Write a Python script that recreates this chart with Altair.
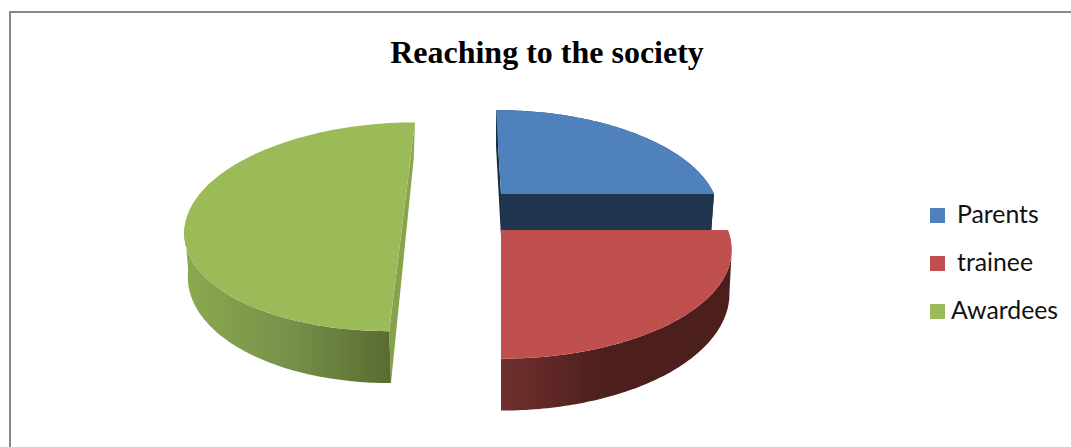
import math
import altair as alt

# Chart content
title_text = "Reaching to the society"
categories = ["Parents", "trainee", "Awardees"]
shares = [25, 25, 50]
colors = ["#4F81BD", "#C0504D", "#9BBB59"]

WIDTH, HEIGHT = 1071, 447
PERSPECTIVE = 0.18
DEPTH = 42.6

# Exploded position and ellipse shape for each slice of the tilted pie.
slice_geometry = {
    "Parents": dict(ax=501, ay=194, rx=213, ry=99, shear=5.9, shrink=0.985, bottom_shear=5.9),
    "trainee": dict(ax=501, ay=230, rx=227, ry=105.5, shear=0, shrink=0.99, bottom_shear=0),
    "Awardees": dict(ax=404.4, ay=208, rx=214, ry=101, shear=-12.5, shrink=0.985, bottom_shear=-11),
}


def project(g, deg, bottom=False):
    """Map an angle on the rim (clockwise from the top) to the page."""
    t = math.radians(deg)
    u, v = math.sin(t), -math.cos(t)
    s = 1 / (1 - PERSPECTIVE * v)
    if bottom:
        x = g["ax"] + (g["shrink"] * g["rx"] * u + g["bottom_shear"] * v) * s
        y = g["ay"] + g["ry"] * v * s + DEPTH * s
    else:
        x = g["ax"] + (g["rx"] * u + g["shear"] * v) * s
        y = g["ay"] + g["ry"] * v * s
    return [round(x, 2), round(y, 2)]


def apex(g, bottom=False):
    return [g["ax"], g["ay"] + (DEPTH if bottom else 0)]


def rim(g, a0, a1, bottom=False, n=90):
    return [project(g, a0 + (a1 - a0) * i / n, bottom) for i in range(n + 1)]


def shape(points, fill):
    feature = {
        "type": "Feature",
        "properties": {},
        "geometry": {"type": "Polygon", "coordinates": [points + [points[0]]]},
    }
    return (
        alt.Chart(alt.Data(values=[feature]))
        .mark_geoshape(fill=fill, strokeWidth=0)
        .project(type="identity", scale=1, translate=[0, 0])
    )


def gradient(stops, horizontal=True):
    return alt.Gradient(
        gradient="linear",
        x1=0, y1=0,
        x2=1 if horizontal else 0,
        y2=0 if horizontal else 1,
        stops=[alt.GradientStop(offset=o, color=c) for o, c in stops],
    )


# Cumulative angles of the slices, from the values.
total = sum(shares)
spans = {}
running = 0
for name, value in zip(categories, shares):
    spans[name] = (running * 360 / total, (running + value) * 360 / total)
    running += value

layers = []

# Frame
layers.append(
    alt.Chart(alt.Data(values=[{}])).mark_rule(color="#888888", strokeWidth=2)
    .encode(x=alt.value(9), x2=alt.value(WIDTH), y=alt.value(12))
)
layers.append(
    alt.Chart(alt.Data(values=[{}])).mark_rule(color="#888888", strokeWidth=2)
    .encode(x=alt.value(10), y=alt.value(11), y2=alt.value(HEIGHT))
)

# Parents: rear slice with its two cut faces showing
g = slice_geometry["Parents"]
a0, a1 = spans["Parents"]
layers.append(shape(rim(g, a0, a1, True)[::-1] + rim(g, a0, a1), "#1F3550"))
layers.append(shape([project(g, a0), apex(g), apex(g, True), project(g, a0, True)], "#1A2D45"))
layers.append(shape([apex(g), project(g, a1), project(g, a1, True), apex(g, True)], "#1F3550"))
layers.append(shape([apex(g)] + rim(g, a0, a1), colors[0]))

# Awardees: left half with a cut face along its chord
g = slice_geometry["Awardees"]
a0, a1 = spans["Awardees"]
layers.append(shape(
    [project(g, a1), project(g, a1, True), project(g, a0, True), project(g, a0)],
    gradient([(0, "#8AA74F"), (1, "#84A04B")], horizontal=False),
))
# The wall runs from the front of the chord round to the left-hand silhouette.
layers.append(shape(
    rim(g, a0, a0 + 80) + rim(g, a0, a0 + 80, True)[::-1],
    gradient([(0, "#8BA950"), (0.5, "#76924A"), (1, "#5A6B30")]),
))
layers.append(shape([apex(g)] + rim(g, a0, a1), colors[2]))

# trainee: front slice, its wall darkening from the left
g = slice_geometry["trainee"]
a0, a1 = spans["trainee"]
layers.append(shape(
    rim(g, a1 - 80, a1) + rim(g, a1 - 80, a1, True)[::-1],
    gradient([(0, "#70302E"), (0.45, "#4C1F1D"), (1, "#4C1F1D")]),
))
layers.append(shape([apex(g)] + rim(g, a0, a1), colors[1]))

# Title
layers.append(
    alt.Chart(alt.Data(values=[{"t": title_text}]))
    .mark_text(font="Liberation Serif", fontWeight="bold", fontSize=32, align="center", color="#000000")
    .encode(text="t:N", x=alt.value(547), y=alt.value(53))
)

# Legend entries
legend_square_y = [215.5, 263.5, 311.5]
legend_text_y = [216, 264, 312]
legend_text_x = [957, 957, 951]
for name, color, sy, ty, tx in zip(categories, colors, legend_square_y, legend_text_y, legend_text_x):
    one = alt.Chart(alt.Data(values=[{"label": name}]))
    layers.append(
        one.mark_square(size=225, color=color, opacity=1)
        .encode(x=alt.value(937.5), y=alt.value(sy))
    )
    layers.append(
        one.mark_text(font="Lato", fontSize=24.8, align="left", baseline="middle", color="#111111")
        .encode(text="label:N", x=alt.value(tx), y=alt.value(ty))
    )

chart = (
    alt.layer(*layers)
    .properties(
        width=WIDTH,
        height=HEIGHT,
        padding=0,
        autosize=alt.AutoSizeParams(type="none"),
        background="#FFFFFF",
    )
    .configure_view(strokeWidth=0)
)

chart.save("out.html", embed_options={"renderer": "svg", "actions": False})
